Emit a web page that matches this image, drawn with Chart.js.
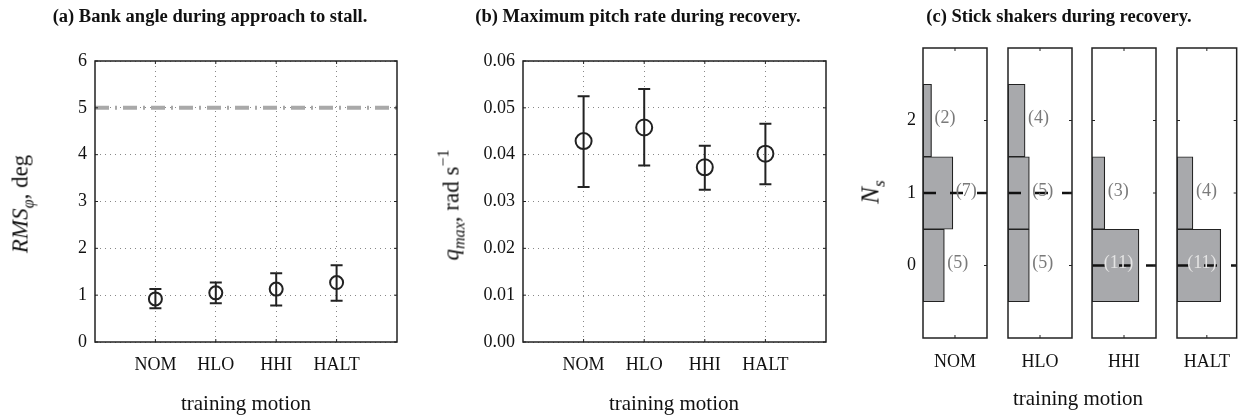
<!DOCTYPE html>
<html><head><meta charset="utf-8">
<script src="https://cdn.jsdelivr.net/npm/chart.js@4.4.1/dist/chart.umd.min.js"></script>
<style>
body{margin:0;background:#fff;}
#wrap{position:relative;width:1244px;height:416px;overflow:hidden;font-family:"Liberation Serif","Times New Roman",serif;color:#111;background:#fff;}
canvas{position:absolute;top:0;}
.t{position:absolute;white-space:nowrap;transform:translate(-50%,-50%);line-height:1;}
.title{font-weight:bold;font-size:18.5px;}
.xl{font-size:21px;}
.yl{font-size:23px;transform:translate(-50%,-50%) rotate(-90deg);}
.yl i{font-style:italic;}
sub{font-size:70%;vertical-align:-0.35em;line-height:0;}
sup{font-size:70%;vertical-align:0.6em;line-height:0;}
</style></head>
<body>
<div id="wrap">
  <canvas id="ca" width="420" height="416" style="left:0px"></canvas>
  <canvas id="cb" width="420" height="416" style="left:420px"></canvas>
  <canvas id="c0" width="108" height="416" style="left:883px"></canvas>
  <canvas id="c1" width="108" height="416" style="left:968px"></canvas>
  <canvas id="c2" width="108" height="416" style="left:1052px"></canvas>
  <canvas id="c3" width="108" height="416" style="left:1137px"></canvas>

  <div class="t title" style="left:210px;top:16px">(a) Bank angle during approach to stall.</div>
  <div class="t title" style="left:638px;top:16px">(b) Maximum pitch rate during recovery.</div>
  <div class="t title" style="left:1059px;top:16px">(c) Stick shakers during recovery.</div>

  <div class="t xl" style="left:246px;top:403px">training motion</div>
  <div class="t xl" style="left:674px;top:403px">training motion</div>
  <div class="t xl" style="left:1078px;top:398px">training motion</div>

  <div class="t yl" style="left:20px;top:204px"><i>RMS</i><sub><i>φ</i></sub>, deg</div>
  <div class="t yl" style="left:451px;top:205px"><i>q</i><sub><i>max</i></sub>, rad s<sup>−1</sup></div>
  <div class="t yl" style="left:870px;top:192px;font-size:25px"><i>N</i><sub><i>s</i></sub></div>
</div>
<script>
// ---------------- data ----------------
const categories = ['NOM', 'HLO', 'HHI', 'HALT'];

// (a) RMS of bank angle during approach to stall [deg]
const rmsMean = [0.92, 1.05, 1.13, 1.27];
const rmsLow  = [0.72, 0.83, 0.78, 0.88];
const rmsHigh = [1.13, 1.27, 1.47, 1.64];
const rmsLimit = 5;

// (b) maximum pitch rate during recovery [rad/s]
const qMean = [0.0429, 0.0458, 0.0373, 0.0402];
const qLow  = [0.0331, 0.0377, 0.0325, 0.0337];
const qHigh = [0.0525, 0.0540, 0.0419, 0.0466];

// (c) number of stick shakers during recovery: counts per level
const shakerLevels = [0, 1, 2];
const shakerNOM  = [5, 7, 2];
const shakerHLO  = [5, 5, 4];
const shakerHHI  = [11, 3, 0];
const shakerHALT = [11, 4, 0];
const shakerCounts = [shakerNOM, shakerHLO, shakerHHI, shakerHALT];

// ---------------- style ----------------
const FONT = '"Liberation Serif","Times New Roman",serif';
const INK = '#222';
Chart.defaults.font.family = FONT;
Chart.defaults.color = '#111';

// box + inside ticks + error bars for panels a and b
const boxPlugin = {
  id: 'boxPlugin',
  afterDatasetsDraw(chart, args, opts) {
    const {ctx, scales: {x, y}} = chart;
    if (opts.low) {
      ctx.save();
      ctx.strokeStyle = INK; ctx.lineWidth = 2;
      opts.low.forEach((lo, i) => {
        const px = x.getPixelForValue(i + 1);
        const p1 = y.getPixelForValue(lo), p2 = y.getPixelForValue(opts.high[i]);
        ctx.beginPath();
        ctx.moveTo(px, p1); ctx.lineTo(px, p2);
        ctx.moveTo(px - 6, p1); ctx.lineTo(px + 6, p1);
        ctx.moveTo(px - 6, p2); ctx.lineTo(px + 6, p2);
        ctx.stroke();
      });
      ctx.restore();
    }
  },
  afterDraw(chart) {
    const {ctx, chartArea: a, scales: {x, y}} = chart;
    ctx.save();
    ctx.strokeStyle = INK; ctx.lineWidth = 1.5;
    ctx.strokeRect(a.left, a.top, a.right - a.left, a.bottom - a.top);
    ctx.lineWidth = 1;
    ctx.beginPath();
    y.ticks.forEach(t => {
      const py = y.getPixelForValue(t.value);
      ctx.moveTo(a.left, py); ctx.lineTo(a.left + 3, py);
      ctx.moveTo(a.right, py); ctx.lineTo(a.right - 3, py);
    });
    x.ticks.forEach(t => {
      const px = x.getPixelForValue(t.value);
      ctx.moveTo(px, a.top); ctx.lineTo(px, a.top + 3);
      ctx.moveTo(px, a.bottom); ctx.lineTo(px, a.bottom - 3);
    });
    ctx.stroke();
    ctx.restore();
  }
};

function errChart(id, mean, low, high, yMin, yMax, step, fmt, yWidth, padRight, radius, extra) {
  const datasets = [];
  if (extra) datasets.push(extra);
  datasets.push({
    type: 'scatter',
    data: mean.map((v, i) => ({x: i + 1, y: v})),
    pointRadius: radius, pointHoverRadius: radius,
    pointBorderWidth: 2, pointHoverBorderWidth: 2,
    borderColor: INK, backgroundColor: 'rgba(0,0,0,0)'
  });
  return new Chart(document.getElementById(id), {
    type: 'scatter',
    data: {datasets},
    options: {
      responsive: false, animation: false, events: [],
      layout: {padding: {left: 0, top: 61, right: padRight, bottom: 0}},
      plugins: {legend: {display: false}, tooltip: {enabled: false},
                boxPlugin: {low, high}},
      scales: {
        x: {
          type: 'linear', min: 0, max: categories.length + 1,
          afterBuildTicks: s => { s.ticks = categories.map((c, i) => ({value: i + 1})); },
          afterFit: s => { s.height = 74; },
          ticks: {callback: v => categories[v - 1], padding: 12, maxRotation: 0,
                  font: {size: 18, family: FONT}, color: '#111'},
          grid: {color: '#888', lineWidth: 1, drawTicks: false},
          border: {display: false, dash: [1, 4]}
        },
        y: {
          min: yMin, max: yMax,
          ticks: {stepSize: step, callback: fmt, padding: 8,
                  font: {size: 18, family: FONT}, color: '#111'},
          afterFit: s => { s.width = yWidth; },
          grid: {color: '#888', lineWidth: 1, drawTicks: false},
          border: {display: false, dash: [1, 4]}
        }
      }
    },
    plugins: [boxPlugin]
  });
}

errChart('ca', rmsMean, rmsLow, rmsHigh, 0, 6, 1, v => String(v), 95, 23, 6.5, {
  type: 'line',
  data: [{x: 0, y: rmsLimit}, {x: categories.length + 1, y: rmsLimit}],
  borderColor: '#a9a9a9', borderWidth: 4, borderDash: [14, 6, 2, 6],
  pointRadius: 0, pointHoverRadius: 0, fill: false
});
errChart('cb', qMean, qLow, qHigh, 0, 0.06, 0.01, v => Number(v).toFixed(2), 103, 14, 8, null);

// ---------------- panel c ----------------
function median(counts) {
  const n = counts.reduce((a, b) => a + b, 0);
  const sorted = [];
  counts.forEach((c, i) => { for (let k = 0; k < c; k++) sorted.push(shakerLevels[i]); });
  return n % 2 ? sorted[(n - 1) / 2] : (sorted[n / 2 - 1] + sorted[n / 2]) / 2;
}

const histPlugin = {
  id: 'histPlugin',
  beforeDatasetsDraw(chart) {
    const {ctx, chartArea: a, scales: {y}} = chart;
    ctx.save(); ctx.strokeStyle = INK; ctx.lineWidth = 1; ctx.beginPath();
    y.ticks.forEach(t => { const py = y.getPixelForValue(t.value); ctx.moveTo(a.left, py); ctx.lineTo(a.left + 3, py); });
    ctx.stroke(); ctx.restore();
  },
  afterDatasetsDraw(chart, args, opts) {
    const {ctx, chartArea: a, scales: {x, y}} = chart;
    const counts = opts.counts;
    const my = y.getPixelForValue(median(counts));
    ctx.save();
    ctx.strokeStyle = '#111'; ctx.lineWidth = 2.5; ctx.setLineDash([13, 14]);
    ctx.beginPath(); ctx.moveTo(a.left, my); ctx.lineTo(a.right, my); ctx.stroke();
    ctx.restore();
    ctx.save();
    ctx.font = '18px ' + FONT;
    ctx.textBaseline = 'middle';
    counts.forEach((c, i) => {
      if (!c) return;
      const txt = '(' + c + ')';
      const w = ctx.measureText(txt).width;
      const end = x.getPixelForValue(c);
      const py = y.getPixelForValue(shakerLevels[i]) - 2;
      if (end + 3 + w > a.right) {
        ctx.fillStyle = '#e4e4e4'; ctx.textAlign = 'center';
        ctx.fillText(txt, (a.left + end) / 2 + 3, py);
      } else {
        ctx.fillStyle = '#7a7a7a'; ctx.textAlign = 'left';
        ctx.fillText(txt, end + 3, py);
      }
    });
    ctx.restore();
  },
  afterDraw(chart) {
    const {ctx, chartArea: a, scales: {x, y}} = chart;
    ctx.save();
    ctx.strokeStyle = INK; ctx.lineWidth = 1.5;
    ctx.strokeRect(a.left, a.top, a.right - a.left, a.bottom - a.top);
    ctx.lineWidth = 1; ctx.beginPath();
    y.ticks.forEach(t => { const py = y.getPixelForValue(t.value); ctx.moveTo(a.right, py); ctx.lineTo(a.right - 3, py); });
    x.ticks.forEach(t => { const px = x.getPixelForValue(t.value);
      ctx.moveTo(px, a.top); ctx.lineTo(px, a.top + 3);
      ctx.moveTo(px, a.bottom); ctx.lineTo(px, a.bottom - 3); });
    ctx.stroke(); ctx.restore();
  }
};

const countMax = 15;
shakerCounts.forEach((counts, k) => {
  new Chart(document.getElementById('c' + k), {
    type: 'bar',
    data: {datasets: [{
      data: counts.map((c, i) => ({x: c, y: shakerLevels[i]})),
      backgroundColor: '#a8a9ac', borderColor: INK, borderWidth: 1.2,
      borderSkipped: false, barPercentage: 1, categoryPercentage: 1
    }]},
    options: {
      indexAxis: 'y', responsive: false, animation: false, events: [],
      layout: {padding: {left: 0, top: 48, right: 4, bottom: 0}},
      plugins: {legend: {display: false}, tooltip: {enabled: false}, histPlugin: {counts}},
      scales: {
        x: {
          type: 'linear', min: 0, max: countMax, offset: false,
          afterBuildTicks: s => { s.ticks = [{value: countMax / 2}]; },
          afterFit: s => { s.height = 78; },
          ticks: {callback: () => categories[k], padding: 13, maxRotation: 0,
                  font: {size: 18, family: FONT}, color: '#111'},
          grid: {display: false, drawTicks: false}, border: {display: false}
        },
        y: {
          type: 'linear', min: -1, max: 3, offset: false,
          afterBuildTicks: s => { s.ticks = shakerLevels.map(v => ({value: v})); },
          afterFit: s => { s.width = 40; },
          ticks: {display: k === 0, padding: 7, font: {size: 18, family: FONT}, color: '#111'},
          grid: {display: false, drawTicks: false}, border: {display: false}
        }
      }
    },
    plugins: [histPlugin]
  });
});
</script>
</body></html>
